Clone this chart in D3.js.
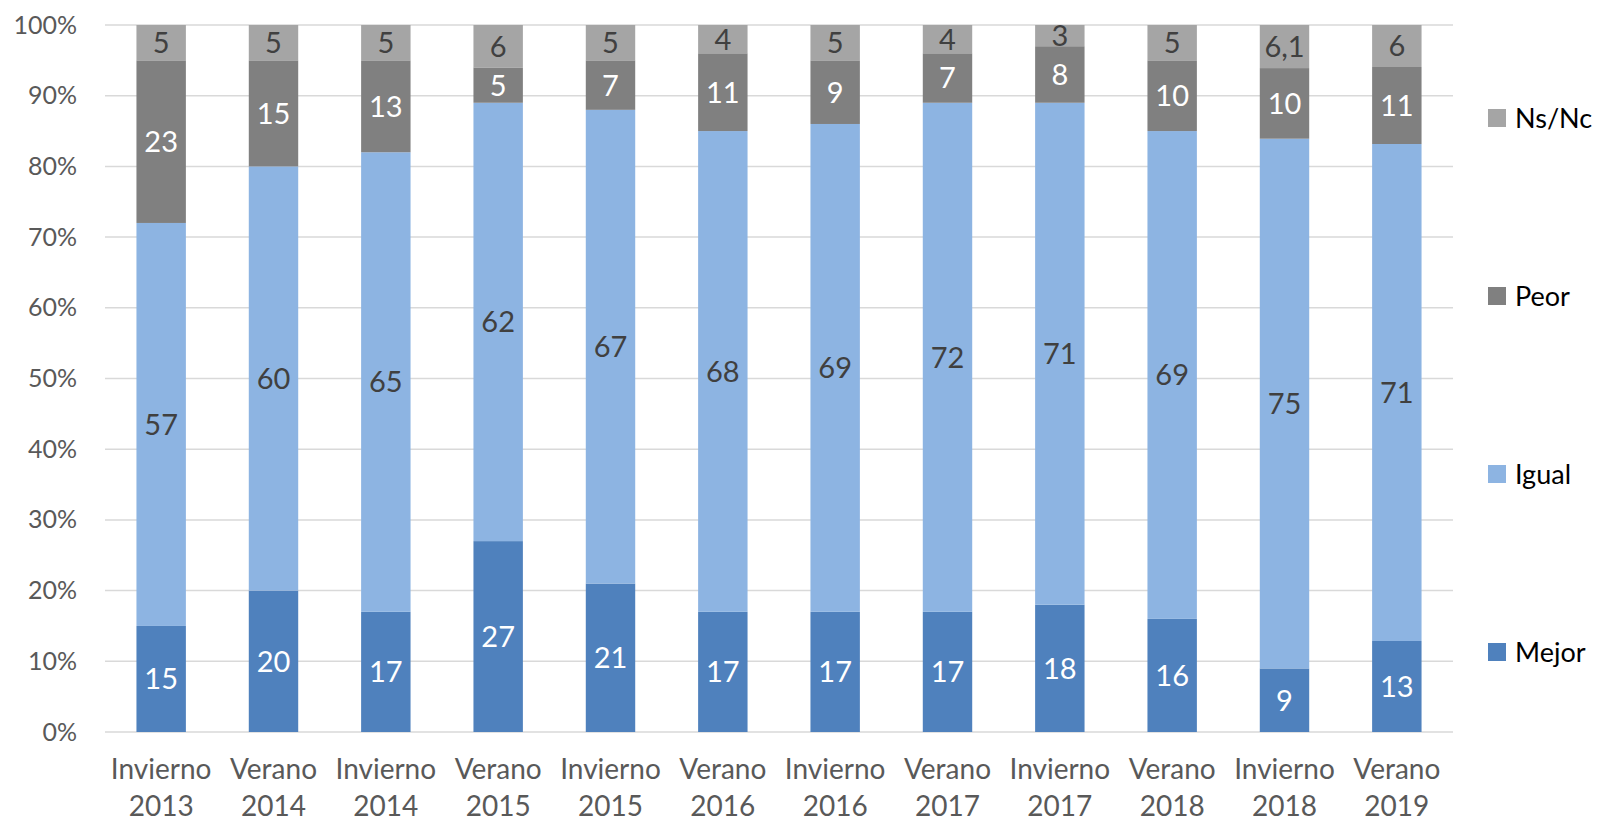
<!DOCTYPE html>
<html><head><meta charset="utf-8">
<script src="https://cdn.jsdelivr.net/npm/d3@7"></script>
<style>body{margin:0;background:#fff}svg{display:block}</style>
</head><body>
<svg id="c" width="1599" height="825"></svg>
<script>
const categories = [["Invierno","2013"],["Verano","2014"],["Invierno","2014"],["Verano","2015"],["Invierno","2015"],["Verano","2016"],["Invierno","2016"],["Verano","2017"],["Invierno","2017"],["Verano","2018"],["Invierno","2018"],["Verano","2019"]];
const mejor = [15,20,17,27,21,17,17,17,18,16,9,13];
const igual = [57,60,65,62,67,68,69,72,71,69,75,71];
const peor  = [23,15,13,5,7,11,9,7,8,10,10,11];
const nsnc  = [5,5,5,6,5,4,5,4,3,5,6.1,6];
const seriesNames = ["Mejor","Igual","Peor","Ns/Nc"];
const colors = ["#4F81BD","#8DB4E2","#808080","#A5A5A5"];
const labelColors = ["#FFFFFF","#404040","#FFFFFF","#404040"];
const yTicks = [0,0.1,0.2,0.3,0.4,0.5,0.6,0.7,0.8,0.9,1];

const FONT = "Lato, 'Open Sans', sans-serif";
const svg = d3.select("#c");
const m = {l:105, r:1453, t:25, b:732};

const rows = categories.map((c,i)=>({key:i, Mejor:mejor[i], Igual:igual[i], Peor:peor[i], "Ns/Nc":nsnc[i]}));
const stack = d3.stack().keys(seriesNames).offset(d3.stackOffsetExpand)(rows);

const x = d3.scaleBand().domain(d3.range(categories.length)).range([m.l,m.r]).paddingInner(0.56).paddingOuter(0.28);
const y = d3.scaleLinear().domain([0,1]).range([m.b,m.t]);

// gridlines
svg.append("g").selectAll("line").data(yTicks).join("line")
  .attr("x1",m.l).attr("x2",m.r).attr("y1",d=>y(d)).attr("y2",d=>y(d))
  .attr("stroke","#D9D9D9").attr("stroke-width",1.5);

// y axis labels
const yAxis = d3.axisLeft(y).tickValues(yTicks).tickFormat(d3.format(".0%")).tickSize(0).tickPadding(28);
const ga = svg.append("g").attr("transform",`translate(${m.l},0)`).call(yAxis);
ga.select(".domain").remove();
ga.selectAll("text").attr("font-family",FONT).attr("font-size",25).attr("fill","#595959");

// bars
const g = svg.append("g");
stack.forEach((s,si)=>{
  const sg = g.append("g");
  sg.selectAll("rect").data(s).join("rect")
    .attr("x",(d,i)=>x(i)).attr("width",x.bandwidth())
    .attr("y",d=>y(d[1])).attr("height",d=>y(d[0])-y(d[1]))
    .attr("fill",colors[si]);
  sg.selectAll("text").data(s).join("text")
    .attr("x",(d,i)=>x(i)+x.bandwidth()/2)
    .attr("y",d=>(y(d[0])+y(d[1]))/2)
    .attr("dy","0.36em")
    .attr("text-anchor","middle")
    .attr("font-family",FONT).attr("font-size",29)
    .attr("fill",labelColors[si])
    .text((d,i)=>String(d.data[seriesNames[si]]).replace(".",","));
});

// x axis labels
const xl = svg.append("g");
categories.forEach((c,i)=>{
  const t = xl.append("text").attr("x",x(i)+x.bandwidth()/2).attr("text-anchor","middle")
    .attr("font-family",FONT).attr("font-size",28).attr("fill","#595959");
  t.append("tspan").attr("x",x(i)+x.bandwidth()/2).attr("y",779).text(c[0]);
  t.append("tspan").attr("x",x(i)+x.bandwidth()/2).attr("y",816).text(c[1]);
});

// legend
const legY = d3.scalePoint().domain(["Ns/Nc","Peor","Igual","Mejor"]).range([118,652]);
const lg = svg.append("g");
["Ns/Nc","Peor","Igual","Mejor"].forEach(n=>{
  const si = seriesNames.indexOf(n);
  lg.append("rect").attr("x",1488).attr("y",legY(n)-9).attr("width",18).attr("height",18).attr("fill",colors[si]);
  lg.append("text").attr("x",1515).attr("y",legY(n)).attr("dy","0.36em")
    .attr("font-family",FONT).attr("font-size",27).attr("fill","#000").text(n);
});
</script>
</body></html>
